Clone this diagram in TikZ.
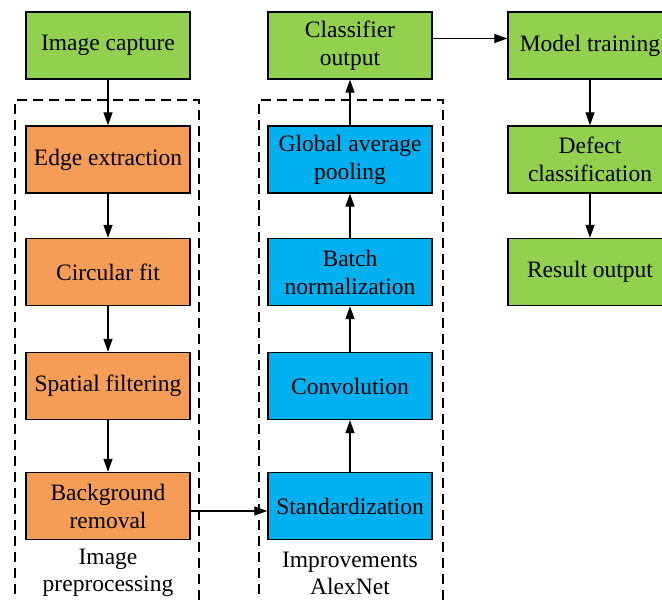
\documentclass[tikz,border=0pt]{standalone}
\usepackage{fontspec}
\setmainfont{Liberation Serif}
\usetikzlibrary{arrows.meta}
\definecolor{gbox}{HTML}{92D050}
\definecolor{obox}{HTML}{F59D56}
\definecolor{bbox}{HTML}{00B0F0}
\tikzset{
  box/.style={draw=black, line width=1.4pt, minimum width=164pt, minimum height=67pt, inner sep=0pt, align=center, font=\fontsize{23.5}{28}\selectfont},
  arr/.style={line width=1.3pt, -{Triangle[length=13pt,width=9pt]}},
  grp/.style={line width=1.3pt, dash pattern=on 10pt off 6pt},
  lbl/.style={align=center, font=\fontsize{23.5}{27}\selectfont}
}
\begin{document}
\begin{tikzpicture}[x=1pt,y=-1pt]
\useasboundingbox (0,0) rectangle (662,600);
\clip (0,0) rectangle (662,600);
\fill[white] (0,0) rectangle (662,600);
% group frames
\draw[grp] (15,610) -- (15,100) -- (199,100) -- (199,610);
\draw[grp] (259,610) -- (259,100) -- (443,100) -- (443,610);
% left column
\node[box, fill=gbox] (cap) at (108,45.5) {Image capture};
\node[box, fill=obox] (edge) at (108,159.5) {Edge extraction};
\node[box, fill=obox] (circ) at (108,272) {Circular fit};
\node[box, fill=obox] (spat) at (108,386) {Spatial filtering};
\node[box, fill=obox] (back) at (108,506) {Background\\removal};
% middle column
\node[box, fill=gbox] (cls) at (350,45.5) {Classifier\\output};
\node[box, fill=bbox] (gap) at (350,159.5) {Global average\\pooling};
\node[box, fill=bbox] (bn) at (350,272) {Batch\\normalization};
\node[box, fill=bbox] (conv) at (350,386) {Convolution};
\node[box, fill=bbox] (std) at (350,506) {Standardization};
% right column
\node[box, fill=gbox] (mt) at (590,45.5) {Model training};
\node[box, fill=gbox] (dc) at (590,159.5) {Defect\\classification};
\node[box, fill=gbox] (ro) at (590,272) {Result output};
% labels
\node[lbl] (l1) at (108,573) {Image\\preprocessing};
\node[lbl] (l2) at (350,573) {Improvements\\AlexNet};
% arrows
\draw[arr] (cap) -- (edge);
\draw[arr] (edge) -- (circ);
\draw[arr] (circ) -- (spat);
\draw[arr] (spat) -- (back);
\coordinate (b1) at ([yshift=-5pt]back.east);
\draw[arr] (b1) -- (b1 -| std.west);
\draw[arr] (std) -- (conv);
\draw[arr] (conv) -- (bn);
\draw[arr] (bn) -- (gap);
\draw[arr] (gap) -- (cls);
\coordinate (c1) at ([yshift=7pt]cls.east);
\draw[arr] (c1) -- (c1 -| mt.west);
\draw[arr] (mt) -- (dc);
\draw[arr] (dc) -- (ro);
\end{tikzpicture}
\end{document}
